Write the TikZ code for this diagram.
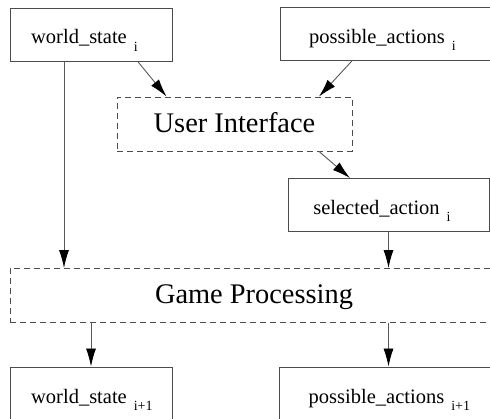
\documentclass[tikz,border=0pt]{standalone}
\usepackage{fontspec}
\setmainfont{Liberation Serif}
\usetikzlibrary{arrows.meta}
\newcommand{\subidx}[1]{\hspace{7pt}\raisebox{-7.5pt}{\makebox[17pt][l]{\fontsize{14}{14}\selectfont #1}}}

\begin{document}
\begin{tikzpicture}[x=1pt, y=-1pt]
	\tikzstyle{databox}=[draw=black!70, line width=0.9pt, minimum height=53pt, inner sep=0pt, font=\fontsize{20.5}{22}\selectfont, text height=21pt, text depth=2pt]
	\tikzstyle{procbox}=[draw=black!70, line width=0.9pt, dash pattern=on 6pt off 4pt, minimum height=54pt, inner sep=0pt, font=\fontsize{28.4}{30}\selectfont, text height=20pt, text depth=3pt]
	\tikzstyle{flow}=[draw=black!65, line width=0.9pt, -{Latex[length=18pt,width=10pt,color=black]}]
	\useasboundingbox (0,0) rectangle (490,419);
	% inputs of step i
	\node [databox, minimum width=162pt] (ws) at (91,34.5) {world\_state\subidx{i}};
	\node [databox, minimum width=218pt] (pa) at (389,34) {possible\_actions\subidx{i}};
	\node [procbox, minimum width=235pt] (ui) at (234.5,124) {User Interface};
	\node [databox, minimum width=201pt] (sel) at (388.5,205) {selected\_action\subidx{i}};
	\node [procbox, minimum width=488pt] (gp) at (254,295.5) {Game Processing};
	% outputs of step i+1
	\node [databox, minimum width=162pt] (ws2) at (91,393.5) {world\_state\subidx{i+1}};
	\node [databox, minimum width=218pt] (pa2) at (388.5,393.5) {possible\_actions\subidx{i+1}};
	\draw [flow] (ws.-30) -- (ui.158);
	\draw [flow] (pa.-144) -- (ui.18);
	\draw [flow] (ui.-18) -- (sel.145);
	\draw [flow] ([xshift=-27pt]ws.south) -- ([xshift=-27pt]ws.south |- gp.north);
	\draw [flow] (sel.south) -- (sel.south |- gp.north);
	\draw [flow] (ws2.north |- gp.south) -- (ws2.north);
	\draw [flow] (pa2.north |- gp.south) -- (pa2.north);
\end{tikzpicture}
\end{document}
